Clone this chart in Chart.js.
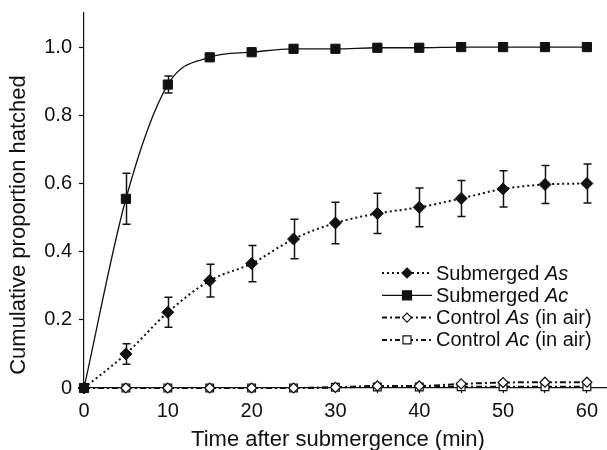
<!DOCTYPE html>
<html>
<head>
<meta charset="utf-8">
<script src="https://cdn.jsdelivr.net/npm/chart.js@4.4.1/dist/chart.umd.min.js"></script>
<style>
    html, body { margin: 0; padding: 0; background: #fff; }
</style>
</head>
<body>
<canvas id="hatchChart" width="607" height="450"></canvas>
<script>
const minutes = [0, 5, 10, 15, 20, 25, 30, 35, 40, 45, 50, 55, 60];

const submergedAs = [0, 0.1, 0.222, 0.315, 0.365, 0.437, 0.484, 0.512, 0.53, 0.556, 0.584, 0.597, 0.6];
const submergedAsErr = [0, 0.03, 0.044, 0.048, 0.053, 0.058, 0.061, 0.059, 0.057, 0.053, 0.053, 0.056, 0.057];

const submergedAc = [0, 0.555, 0.89, 0.97, 0.985, 0.995, 0.995, 0.998, 0.998, 1.0, 1.0, 1.0, 1.0];
const submergedAcErr = [0, 0.075, 0.025, 0.008, 0.005, 0, 0, 0, 0, 0, 0, 0, 0];

const controlAs = [0, 0, 0, 0, 0, 0, 0.002, 0.006, 0.006, 0.012, 0.016, 0.017, 0.017];
const controlAc = [0, 0, 0, 0, 0, 0, 0.002, 0.003, 0.003, 0.004, 0.004, 0.004, 0.004];

const xTicks = [0, 5, 10, 15, 20, 25, 30, 35, 40, 45, 50, 55, 60];
const yTicks = [0, 0.2, 0.4, 0.6, 0.8, 1.0];

const FONT = '"Liberation Sans", Arial, Helvetica, sans-serif';

function points(values) {
    return values.map((v, i) => ({ x: minutes[i], y: v }));
}

// error bars drawn under the markers
const errorBars = {
    id: "errorBars",
    beforeDatasetsDraw(chart) {
        const ctx = chart.ctx;
        const xs = chart.scales.x;
        const ys = chart.scales.y;
        ctx.save();
        ctx.strokeStyle = "#111";
        ctx.lineWidth = 1.5;
        [[submergedAs, submergedAsErr], [submergedAc, submergedAcErr]].forEach(([vals, errs]) => {
            vals.forEach((v, i) => {
                if (!errs[i]) return;
                const px = Math.round(xs.getPixelForValue(minutes[i])) + 0.5;
                const top = ys.getPixelForValue(v + errs[i]);
                const bot = ys.getPixelForValue(v - errs[i]);
                ctx.beginPath();
                ctx.moveTo(px, top);
                ctx.lineTo(px, bot);
                ctx.moveTo(px - 4, top);
                ctx.lineTo(px + 4, top);
                ctx.moveTo(px - 4, bot);
                ctx.lineTo(px + 4, bot);
                ctx.stroke();
            });
        });
        ctx.restore();
    }
};

function drawMarker(ctx, style, x, y, r, filled) {
    ctx.beginPath();
    if (style === "diamond") {
        ctx.moveTo(x, y - r);
        ctx.lineTo(x + r, y);
        ctx.lineTo(x, y + r);
        ctx.lineTo(x - r, y);
    } else {
        ctx.rect(x - r, y - r, 2 * r, 2 * r);
    }
    ctx.closePath();
    ctx.fillStyle = filled ? "#111" : "#fff";
    ctx.fill();
    ctx.lineWidth = 1.2;
    ctx.strokeStyle = "#111";
    ctx.stroke();
}

// legend and axis titles, drawn by hand for the italic species names
const decorations = {
    id: "decorations",
    afterDraw(chart) {
        const ctx = chart.ctx;
        const items = [
            { name: "Submerged ", sp: "As", tail: "", dash: [2, 3], width: 2, marker: "diamond", r: 5, filled: true },
            { name: "Submerged ", sp: "Ac", tail: "", dash: [], width: 1.3, marker: "square", r: 4.5, filled: true },
            { name: "Control ", sp: "As", tail: " (in air)", dash: [5, 3, 2, 3], width: 2, marker: "diamond", r: 4.5, filled: false },
            { name: "Control ", sp: "Ac", tail: " (in air)", dash: [5, 3, 2, 3], width: 2, marker: "square", r: 4, filled: false }
        ];
        ctx.save();
        items.forEach((it, i) => {
            const y = 273 + i * 22.3;
            ctx.beginPath();
            ctx.setLineDash(it.dash);
            ctx.lineWidth = it.width;
            ctx.strokeStyle = "#111";
            ctx.moveTo(382, y);
            ctx.lineTo(432, y);
            ctx.stroke();
            ctx.setLineDash([]);
            drawMarker(ctx, it.marker, 407, y, it.r, it.filled);

            ctx.fillStyle = "#111";
            ctx.textBaseline = "middle";
            ctx.textAlign = "left";
            let x = 436;
            ctx.font = "20px " + FONT;
            ctx.fillText(it.name, x, y + 1);
            x += ctx.measureText(it.name).width;
            ctx.font = "italic 20px " + FONT;
            ctx.fillText(it.sp, x, y + 1);
            x += ctx.measureText(it.sp).width;
            ctx.font = "20px " + FONT;
            ctx.fillText(it.tail, x, y + 1);
        });

        ctx.fillStyle = "#111";
        ctx.font = "22px " + FONT;
        ctx.textAlign = "center";
        ctx.textBaseline = "alphabetic";
        ctx.fillText("Time after submergence (min)", 338, 446);

        ctx.translate(25, 225);
        ctx.rotate(-Math.PI / 2);
        ctx.fillText("Cumulative proportion hatched", 0, 0);
        ctx.restore();
    }
};

document.addEventListener("DOMContentLoaded", () => {
    const ctx = document.getElementById("hatchChart").getContext("2d");

    new Chart(ctx, {
        type: "line",
        data: {
            datasets: [
                {
                    label: "Submerged Ac",
                    data: points(submergedAc),
                    borderColor: "#111",
                    borderWidth: 1.3,
                    cubicInterpolationMode: "monotone",
                    pointStyle: "rect",
                    pointRadius: 6.5,
                    pointBackgroundColor: "#111",
                    pointBorderColor: "#111",
                    pointBorderWidth: 1,
                    clip: false
                },
                {
                    label: "Submerged As",
                    data: points(submergedAs),
                    borderColor: "#111",
                    borderWidth: 2,
                    borderDash: [2, 3],
                    cubicInterpolationMode: "monotone",
                    pointStyle: "rectRot",
                    pointRadius: 6,
                    pointBackgroundColor: "#111",
                    pointBorderColor: "#111",
                    pointBorderWidth: 1,
                    clip: false
                },
                {
                    label: "Control As (in air)",
                    data: points(controlAs),
                    borderColor: "#111",
                    borderWidth: 2,
                    borderDash: [6, 3, 2, 3],
                    cubicInterpolationMode: "monotone",
                    pointStyle: "rectRot",
                    pointRadius: 5,
                    pointBackgroundColor: "#fff",
                    pointBorderColor: "#111",
                    pointBorderWidth: 1.2,
                    clip: false
                },
                {
                    label: "Control Ac (in air)",
                    data: points(controlAc),
                    borderColor: "#111",
                    borderWidth: 2,
                    borderDash: [6, 3, 2, 3],
                    cubicInterpolationMode: "monotone",
                    pointStyle: "rect",
                    pointRadius: 5.5,
                    pointBackgroundColor: "#fff",
                    pointBorderColor: "#111",
                    pointBorderWidth: 1.2,
                    clip: false
                }
            ]
        },
        options: {
            responsive: false,
            animation: false,
            devicePixelRatio: 1,
            layout: { autoPadding: false, padding: { top: 13, right: 0, bottom: 0, left: 0 } },
            plugins: {
                legend: { display: false },
                tooltip: { enabled: false }
            },
            scales: {
                x: {
                    type: "linear",
                    min: 0,
                    max: 62.4,
                    afterFit: (s) => { s.height = 62; s.paddingLeft = 0; s.paddingRight = 0; },
                    afterBuildTicks: (s) => { s.ticks = xTicks.map(v => ({ value: v })); },
                    border: { display: true, color: "#111", width: 1.2 },
                    grid: { drawOnChartArea: false, drawTicks: true, tickLength: 5, color: "#111", tickWidth: 1.2 },
                    ticks: {
                        color: "#111",
                        padding: 6,
                        maxRotation: 0,
                        autoSkip: false,
                        font: { family: FONT, size: 20 },
                        callback: (v) => (v % 10 === 0 ? String(v) : "")
                    }
                },
                y: {
                    min: 0,
                    max: 1.1,
                    afterFit: (s) => { s.width = 84; s.paddingTop = 0; s.paddingBottom = 0; },
                    afterBuildTicks: (s) => { s.ticks = yTicks.map(v => ({ value: v })); },
                    border: { display: true, color: "#111", width: 1.2 },
                    grid: { drawOnChartArea: false, drawTicks: true, tickLength: 5, color: "#111", tickWidth: 1.2 },
                    ticks: {
                        color: "#111",
                        padding: 7,
                        font: { family: FONT, size: 20 },
                        callback: (v) => (v === 0 ? "0" : v.toFixed(1))
                    }
                }
            }
        },
        plugins: [errorBars, decorations]
    });
});
</script>
</body>
</html>
